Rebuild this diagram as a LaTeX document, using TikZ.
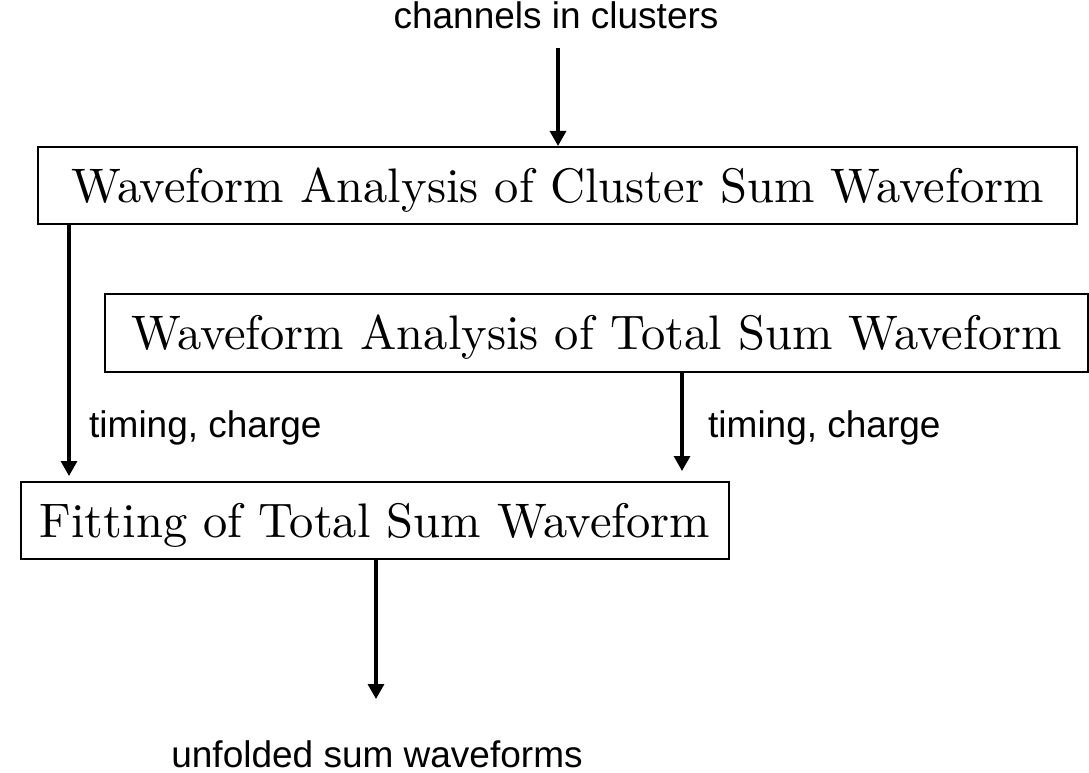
\documentclass[tikz,border=0pt]{standalone}
\usepackage{fontspec}
\newfontfamily\labelfont{Liberation Sans}
\newfontfamily\stagefont{lmroman10-regular}[Extension=.otf]
\usetikzlibrary{arrows.meta}

\tikzset{
  stagebox/.style={draw, line width=2pt, inner sep=0pt,
    font=\stagefont\fontsize{48.5}{58}\selectfont,
    text height=33pt, text depth=0pt},
  flowarrow/.style={line width=3.2pt,
    -{Triangle[width=16pt,length=15pt]}},
  flowlabel/.style={inner sep=0pt,
    font=\labelfont\fontsize{37}{44}\selectfont},
}

\begin{document}
\begin{tikzpicture}[x=1pt,y=-1pt]
  \useasboundingbox (0,0) rectangle (1089,773);

  % processing stages
  \node[stagebox, minimum width=1039pt, minimum height=77pt]
    (cluster) at (557.5,185.5) {Waveform Analysis of Cluster Sum Waveform};
  \node[stagebox, minimum width=983pt, minimum height=78pt]
    (total) at (596.5,333) {Waveform Analysis of Total Sum Waveform};
  \node[stagebox, minimum width=708pt, minimum height=77pt]
    (fit) at (375,520.5) {Fitting of Total Sum Waveform};

  % input and output texts
  \node[flowlabel, anchor=base] (input) at (556,29) {channels in clusters};
  \node[flowlabel, anchor=base] (output) at (377,767) {unfolded sum waveforms};

  % connector columns
  \coordinate (inTop) at (558,48);
  \coordinate (leftCol) at (69,0);
  \coordinate (midCol) at (682,0);
  \coordinate (outEnd) at (376,699);

  \draw[flowarrow] (inTop) -- (cluster.north -| inTop);
  \draw[flowarrow, shorten >=5pt] (cluster.south -| leftCol) -- (fit.north -| leftCol);
  \draw[flowarrow, shorten >=10pt] (total.south -| midCol) -- (fit.north -| midCol);
  \draw[flowarrow] (fit.south -| outEnd) -- (outEnd);

  % connector labels
  \node[flowlabel, anchor=base west] (leftLabel) at (89,437) {timing, charge};
  \node[flowlabel, anchor=base west] (midLabel) at (708,437) {timing, charge};
\end{tikzpicture}
\end{document}
